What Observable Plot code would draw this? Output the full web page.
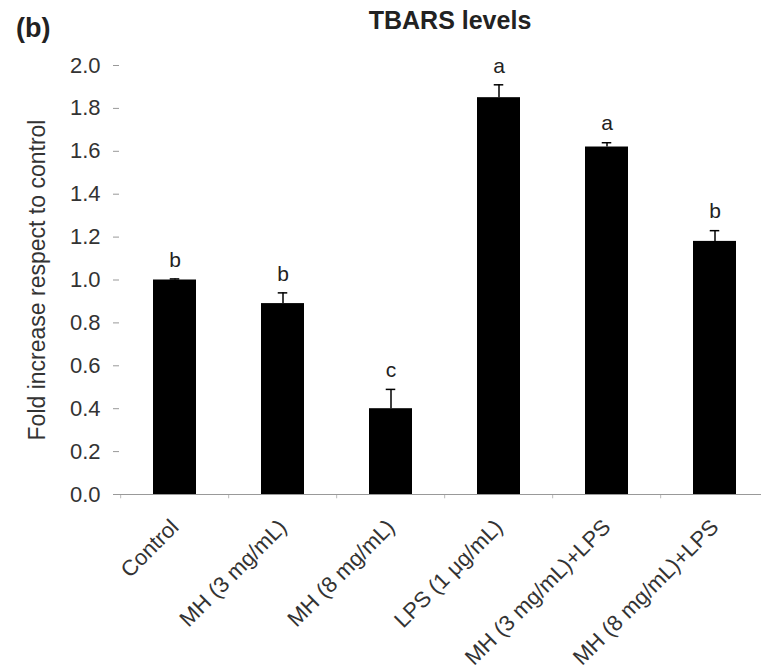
<!DOCTYPE html>
<html>
<head>
<meta charset="utf-8">
<script src="https://cdn.jsdelivr.net/npm/d3@7"></script>
<script src="https://cdn.jsdelivr.net/npm/@observablehq/plot@0.6"></script>
<style>
  html, body { margin: 0; padding: 0; background: #fff; }
  #wrap { position: relative; width: 761px; height: 670px; font-family: "Liberation Sans", Arial, sans-serif; }
  #panel { position: absolute; left: 16px; top: 13px; font-size: 27px; font-weight: bold; color: #222; }
  #title { position: absolute; left: 250px; width: 400px; top: 6px; text-align: center; font-size: 25px; font-weight: bold; color: #222; }
</style>
</head>
<body>
<div id="wrap">
  <div id="chart"></div>
  <div id="panel">(b)</div>
  <div id="title">TBARS levels</div>
</div>
<script>
const categories = ["Control", "MH (3 mg/mL)", "MH (8 mg/mL)", "LPS (1 μg/mL)", "MH (3 mg/mL)+LPS", "MH (8 mg/mL)+LPS"];
const values = [1.00, 0.89, 0.40, 1.85, 1.62, 1.18];
const errors = [0.005, 0.05, 0.09, 0.06, 0.02, 0.05];
const letters = ["b", "b", "c", "a", "a", "b"];
const yTicks = [0, 0.2, 0.4, 0.6, 0.8, 1.0, 1.2, 1.4, 1.6, 1.8, 2.0];

const data = categories.map((c, i) => ({cat: c, v: values[i], e: errors[i], top: values[i] + errors[i], letter: letters[i]}));

const W = 761, H = 670, ML = 119, MT = 65, MB = 176;
const xRange = [ML, 771];
const step = (xRange[1] - xRange[0]) / categories.length;
const padIn = 0.6;
const bw = step * (1 - padIn);

const chart = Plot.plot({
  width: W,
  height: H,
  marginLeft: ML,
  marginRight: 0,
  marginTop: MT,
  marginBottom: MB,
  style: {fontFamily: "Liberation Sans, Arial, sans-serif", background: "#fff"},
  x: {domain: categories, range: xRange, paddingInner: padIn, paddingOuter: padIn / 2, align: 0.5},
  y: {domain: [0, 2]},
  marks: [
    Plot.axisY({ticks: yTicks, tickFormat: d3.format(".1f"), tickSize: 6, tickPadding: 13, fontSize: 22, color: "#333", stroke: "#999", label: null}),
    Plot.axisY({ticks: [], label: "Fold increase respect to control", labelAnchor: "center", labelOffset: 91, labelArrow: "none", fontSize: 23, color: "#333", dy: -8}),
    Plot.ruleX([0], {x: () => ML, y1: 0, y2: 2, stroke: "#999"}),
    Plot.axisX({tickSize: 0, tickPadding: 29, tickRotate: -45, fontSize: 22, color: "#333", label: null}),
    Plot.ruleX(categories, {x: d => d, dx: -step / 2, y1: 0, y2: -0.02, stroke: "#bbb"}),
    Plot.barY(data, {x: "cat", y: "v", fill: "#000"}),
    Plot.ruleY([0], {stroke: "#999"}),
    Plot.ruleX(data, {x: "cat", y1: "v", y2: "top", stroke: "#000", strokeWidth: 1.5}),
    Plot.tickY(data, {x: "cat", y: "top", stroke: "#000", strokeWidth: 1.5, insetLeft: (bw - 10) / 2, insetRight: (bw - 10) / 2}),
    Plot.text(data, {x: "cat", y: "top", text: "letter", dy: -19, fontSize: 21, fill: "#222", lineAnchor: "middle"})
  ]
});
document.getElementById("chart").appendChild(chart);
</script>
</body>
</html>
